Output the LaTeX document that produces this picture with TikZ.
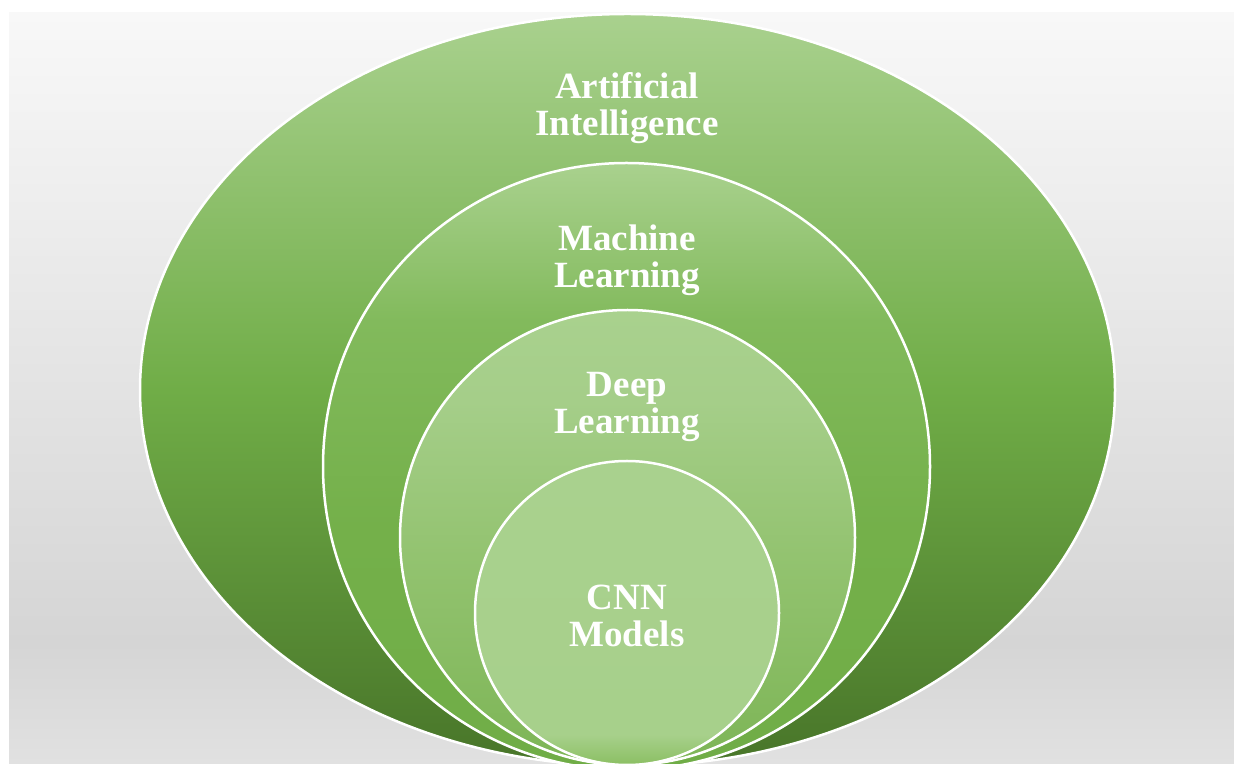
\documentclass[tikz,border=0pt]{standalone}
\usepackage{fontspec}
\setmainfont{Liberation Serif}
\usetikzlibrary{shapes.geometric}

% palette
\definecolor{bgTop}{HTML}{F8F8F8}
\definecolor{bgDark}{HTML}{D5D5D5}
\definecolor{bgBot}{HTML}{E1E1E1}
\definecolor{gLight}{HTML}{A9D18E}
\definecolor{gBase}{HTML}{70AD47}
\definecolor{gDark}{HTML}{487529}

% vertical shadings (first stop = bottom); the shape's box spans 25bp..75bp
\pgfdeclareverticalshading{panelShade}{100bp}{%
  color(0bp)=(bgBot); color(25bp)=(bgBot); color(33bp)=(bgDark);
  color(75bp)=(bgTop); color(100bp)=(bgTop)}
\pgfdeclareverticalshading{aiShade}{100bp}{%
  color(0bp)=(gDark); color(25bp)=(gDark); color(50bp)=(gBase);
  color(75bp)=(gLight); color(100bp)=(gLight)}
\definecolor{mlA}{HTML}{74B04A}
\definecolor{mlB}{HTML}{82BA5C}
\pgfdeclareverticalshading{mlShade}{100bp}{%
  color(0bp)=(gBase); color(25bp)=(gBase); color(45bp)=(mlA);
  color(62bp)=(mlB); color(75bp)=(gLight); color(100bp)=(gLight)}
\definecolor{dlBot}{HTML}{7DB556}
\definecolor{dlMid}{HTML}{93C370}
\definecolor{dlUp}{HTML}{A5CE89}
\pgfdeclareverticalshading{dlShade}{100bp}{%
  color(0bp)=(dlBot); color(25bp)=(dlBot); color(48bp)=(dlMid);
  color(65bp)=(dlUp); color(75bp)=(gLight); color(100bp)=(gLight)}
\definecolor{cnnBot}{HTML}{8BBF63}
\definecolor{cnnLow}{HTML}{A7D08B}
\pgfdeclareverticalshading{cnnShade}{100bp}{%
  color(0bp)=(cnnBot); color(25bp)=(cnnBot); color(30bp)=(cnnLow);
  color(75bp)=(gLight); color(100bp)=(gLight)}

\tikzset{
  layer/.style={draw=white, line width=2.5pt, inner sep=0pt, outer sep=0pt},
  % base anchor sits on the baseline of the last line
  label text/.style={text=white, font=\bfseries\fontsize{37}{37}\selectfont,
    align=center, inner sep=0pt, anchor=base}
}

\begin{document}
\begin{tikzpicture}[x=1pt, y=1pt]
  \useasboundingbox (0,0) rectangle (1234,763);
  \fill[white] (0,0) rectangle (1234,763);
  % backdrop panel
  \shade[shading=panelShade] (9,0) rectangle (1234,750);
  \begin{scope}
    \clip (9,0) rectangle (1234,750);
    \node[layer, ellipse, shading=aiShade,
          minimum width=975pt, minimum height=752pt] (ai) at (627.5,373) {};
    \node[layer, circle, shading=mlShade, minimum size=607pt] (ml) at (626.5,296.5) {};
    \node[layer, circle, shading=dlShade, minimum size=455pt] (dl) at (627.5,225.5) {};
    \node[layer, circle, shading=cnnShade, minimum size=304pt] (cnn) at (627,150) {};
  \end{scope}
  % labels
  \node[label text] (aiL) at (627,627) {Artificial\\Intelligence};
  \node[label text] (mlL) at (627,475) {Machine\\Learning};
  \node[label text] (dlL) at (627,329) {Deep\\Learning};
  \node[label text] (cnnL) at (627,116) {CNN\\Models};
\end{tikzpicture}
\end{document}
